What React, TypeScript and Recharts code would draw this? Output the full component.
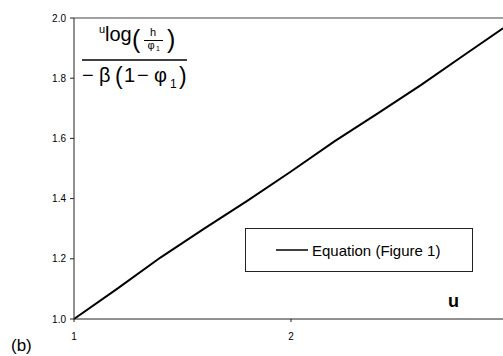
import { Legend, Line, LineChart, ReferenceLine, XAxis, YAxis } from "recharts";

// values
const U_VALUES = [1, 1.2, 1.4, 1.6, 1.8, 2.0, 2.2, 2.4, 2.6, 2.8, 2.977];
const EQUATION_VALUES = [1.0, 1.101, 1.205, 1.3, 1.393, 1.49, 1.59, 1.683, 1.778, 1.878, 1.966];
const X_TICKS = [1, 2];
const Y_TICKS = [1.0, 1.2, 1.4, 1.6, 1.8, 2.0];
const SERIES_NAME = "Equation (Figure 1)";

const FONT = "'Liberation Sans', Arial, sans-serif";

const data = U_VALUES.map((u, i) => ({ u, value: EQUATION_VALUES[i] }));

const LegendBox = ({ payload }: any) => (
  <div
    style={{
      boxSizing: "border-box",
      width: 228,
      height: 44,
      border: "1px solid #222",
      background: "#fff",
      display: "flex",
      alignItems: "center",
      paddingLeft: 30,
      fontFamily: FONT,
      fontSize: 15,
      color: "#000",
    }}
  >
    {(payload || []).map((entry: any) => (
      <div key={entry.value} style={{ display: "flex", alignItems: "center" }}>
        <svg width={32} height={4}>
          <line x1={0} y1={2} x2={32} y2={2} stroke="#000" strokeWidth={1.5} />
        </svg>
        <span style={{ marginLeft: 4 }}>{entry.value}</span>
      </div>
    ))}
  </div>
);

const App = () => {
  return (
    <div style={{ position: "absolute", left: 0, top: 0, width: 503, height: 356, background: "#fff" }}>
      <LineChart
        width={503}
        height={356}
        data={data}
        margin={{ top: 18, right: 0, bottom: 0, left: 0 }}
      >
        <ReferenceLine y={2} stroke="#444" strokeWidth={1.2} />
        <XAxis
          dataKey="u"
          type="number"
          domain={[1, "dataMax"]}
          ticks={X_TICKS}
          height={37}
          tickSize={3}
          tickMargin={11}
          stroke="#222"
          tick={{ fontSize: 10, fill: "#000", fontFamily: FONT }}
        />
        <YAxis
          type="number"
          domain={[1, 2]}
          ticks={Y_TICKS}
          width={74}
          tickSize={4}
          tickMargin={4}
          stroke="#222"
          tickFormatter={(v) => v.toFixed(1)}
          tick={{ fontSize: 10, fill: "#000", fontFamily: FONT }}
        />
        <Line
          type="linear"
          dataKey="value"
          name={SERIES_NAME}
          stroke="#000"
          strokeWidth={2}
          dot={false}
          isAnimationActive={false}
        />
        <Legend
          layout="horizontal"
          verticalAlign="middle"
          align="center"
          content={<LegendBox />}
          wrapperStyle={{ position: "absolute", left: 245, top: 228, width: 228, height: 44 }}
        />
      </LineChart>
      <svg
        width={503}
        height={356}
        style={{ position: "absolute", left: 0, top: 0, pointerEvents: "none" }}
        fontFamily={FONT}
        fill="#000"
      >
        {/* y axis title as a fraction */}
        <text x={99} y={33} fontSize={11}>u</text>
        <text x={105} y={41} fontSize={20}>log</text>
        <text x={132} y={48} fontSize={25}>(</text>
        <text x={153} y={36} fontSize={11} textAnchor="middle">h</text>
        <line x1={144} y1={40.5} x2={163} y2={40.5} stroke="#000" strokeWidth={1} />
        <text x={151} y={49} fontSize={11} textAnchor="middle">φ</text>
        <text x={156} y={51} fontSize={7}>1</text>
        <text x={167} y={48} fontSize={25}>)</text>
        <line x1={82} y1={60} x2={187} y2={60} stroke="#000" strokeWidth={1.5} />
        <text y={82} fontSize={20}>
          <tspan x={82}>−</tspan>
          <tspan x={99}>β</tspan>
        </text>
        <text x={115} y={84} fontSize={23}>(</text>
        <text x={124} y={82} fontSize={20}>1</text>
        <text x={137} y={82} fontSize={20}>−</text>
        <text x={154} y={82} fontSize={20}>φ</text>
        <text x={170} y={88} fontSize={12}>1</text>
        <text x={179} y={84} fontSize={23}>)</text>
        {/* x axis title */}
        <text x={448} y={307} fontSize={18} fontWeight="bold">u</text>
        {/* panel label */}
        <text x={11} y={351} fontSize={17}>(b)</text>
      </svg>
    </div>
  );
};

export default App;
